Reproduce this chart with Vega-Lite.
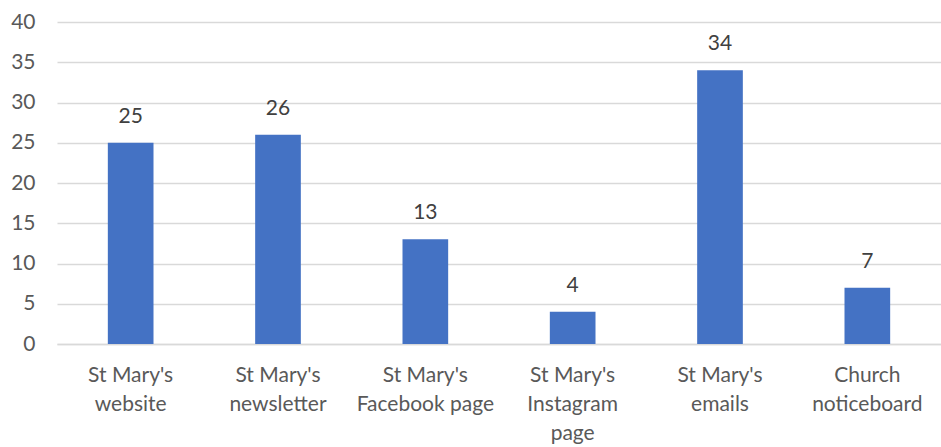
{
  "$schema": "https://vega.github.io/schema/vega-lite/v6.json",
  "autosize": "none",
  "width": 884,
  "height": 322,
  "padding": {"left": 57, "top": 22, "right": 0, "bottom": 103},
  "background": "white",
  "config": {"view": {"stroke": null}, "font": "Lato"},
  "data": {"values": [
    {"channel": "St Mary's\nwebsite", "value": 25},
    {"channel": "St Mary's\nnewsletter", "value": 26},
    {"channel": "St Mary's\nFacebook page", "value": 13},
    {"channel": "St Mary's\nInstagram\npage", "value": 4},
    {"channel": "St Mary's\nemails", "value": 34},
    {"channel": "Church\nnoticeboard", "value": 7}
  ]},
  "encoding": {
    "x": {"field": "channel", "type": "nominal", "sort": null,
      "scale": {"paddingInner": 0.69, "paddingOuter": 0.345},
      "axis": {"title": null, "labelAngle": 0, "labelExpr": "split(datum.label, '\\n')",
        "labelFont": "Lato", "labelFontSize": 21, "labelColor": "#595959", "labelLineHeight": 29,
        "labelPadding": 20, "ticks": false, "domainColor": "#D9D9D9", "domainWidth": 1.5, "labelLimit": 200}},
    "y": {"field": "value", "type": "quantitative",
      "scale": {"domain": [0, 40]},
      "axis": {"title": null, "values": [0,5,10,15,20,25,30,35,40], "ticks": false, "domain": false,
        "gridColor": "#D9D9D9", "gridWidth": 1.5, "labelFont": "Lato", "labelFontSize": 21,
        "labelColor": "#595959", "labelPadding": 22}}
  },
  "layer": [
    {"mark": {"type": "bar", "color": "#4472C4"}},
    {"mark": {"type": "text", "dy": -26, "fontSize": 21, "color": "#404040", "font": "Lato"},
     "encoding": {"text": {"field": "value", "type": "quantitative"}}}
  ]
}
